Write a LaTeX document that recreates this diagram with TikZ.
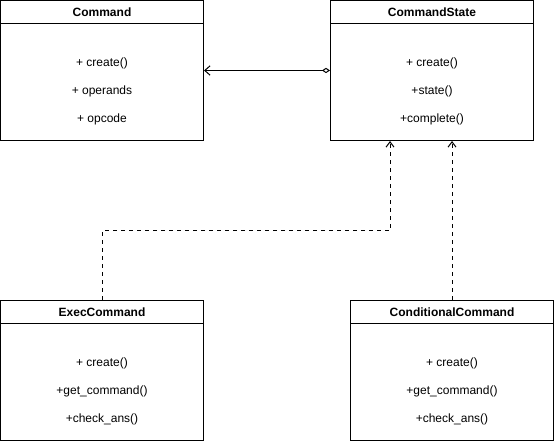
\documentclass[tikz,border=0pt]{standalone}
\usepackage{fontspec}
\setmainfont{Liberation Sans}
\usetikzlibrary{arrows.meta}
\usetikzlibrary{calc}

\begin{document}
\begin{tikzpicture}[x=0.75pt,y=-0.75pt,line width=0.75pt,font=\fontsize{9}{11}\selectfont,
    classbox/.style={draw,minimum width=203*0.75pt,minimum height=140*0.75pt,inner sep=0pt},
    classname/.style={font=\fontsize{9}{11}\selectfont\bfseries},
    assoc/.style={{Diamond[open,length=6pt,width=4pt]}-{Straight Barb[length=4pt,width=7pt]}},
    realize/.style={dash pattern=on 3pt off 3pt,-{Straight Barb[length=4pt,width=6pt]}}]
    \useasboundingbox (0,0) rectangle (554,442);

    % Classes:
    \node [classbox] (cmd) at (102,70.5) {};
    \node [classbox] (cs) at (432,70.5) {};
    \node [classbox] (exec) at (102,370.5) {};
    \node [classbox] (cond) at (452,370.5) {};

    % Header lines
    \foreach \c in {cmd,cs,exec,cond}
        \draw ($(\c.north west)+(0,24)$) -- ($(\c.north east)+(0,24)$);

    % Names and members
    \node [classname] (cmdname) at ($(cmd.north)+(0,12)$) {Command};
    \node (cmdcreate) at ($(cmd.north)+(0,63)$) {+ create()};
    \node (cmdops) at ($(cmd.north)+(0,91)$) {+ operands};
    \node (cmdop) at ($(cmd.north)+(0,119)$) {+ opcode};

    \node [classname] (csname) at ($(cs.north)+(0,12)$) {CommandState};
    \node (cscreate) at ($(cs.north)+(0,63)$) {+ create()};
    \node (csstate) at ($(cs.north)+(0,91)$) {+state()};
    \node (cscomplete) at ($(cs.north)+(0,119)$) {+complete()};

    \node [classname] (execname) at ($(exec.north)+(0,12)$) {ExecCommand};
    \node (execcreate) at ($(exec.north)+(0,63)$) {+ create()};
    \node (execget) at ($(exec.north)+(0,91)$) {+get\_command()};
    \node (execcheck) at ($(exec.north)+(0,119)$) {+check\_ans()};

    \node [classname] (condname) at ($(cond.north)+(0,12)$) {ConditionalCommand};
    \node (condcreate) at ($(cond.north)+(0,63)$) {+ create()};
    \node (condget) at ($(cond.north)+(0,91)$) {+get\_command()};
    \node (condcheck) at ($(cond.north)+(0,119)$) {+check\_ans()};

    % Connectors
    \draw [assoc] (cs.west) -- (cmd.east);
    \draw [realize] (exec.north) |- ($(cs.south)+(-42,90)$) -- ($(cs.south)+(-42,0)$);
    \draw [realize] (cond.north) -- (cond.north |- cs.south);
\end{tikzpicture}
\end{document}
